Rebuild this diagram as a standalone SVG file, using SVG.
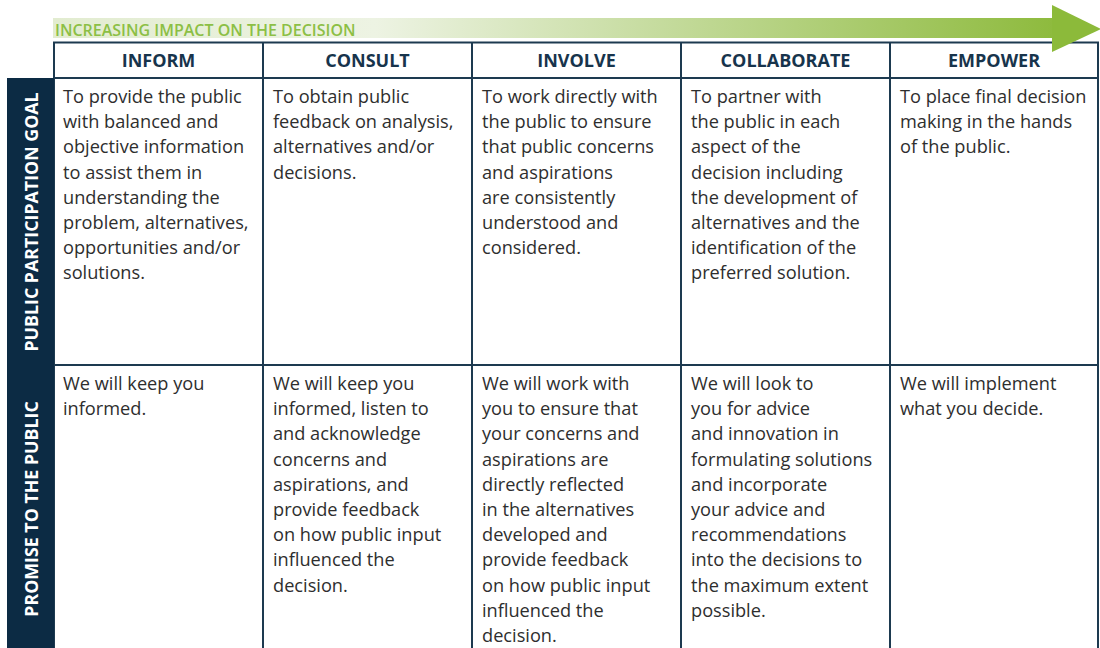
<svg xmlns="http://www.w3.org/2000/svg" width="1100" height="648" viewBox="0 0 1100 648">
<defs>
<linearGradient id="shaft" x1="53" y1="0" x2="1060" y2="0" gradientUnits="userSpaceOnUse">
<stop offset="0" stop-color="#e2ecd0"/>
<stop offset="0.32" stop-color="#edf3e3"/>
<stop offset="1" stop-color="#8dba3c"/>
</linearGradient>
<style>
.grid{stroke:#1d3a50;stroke-width:2;fill:none}
.side{fill:#0c2b44}
.hdr{font-family:"Open Sans","Noto Sans",sans-serif;font-weight:700;font-size:18px;fill:#17344c;text-anchor:middle}
.body{font-family:"Open Sans","Noto Sans",sans-serif;font-size:18.2px;fill:#2e2e2e}
.vert{font-family:"Open Sans","Noto Sans",sans-serif;font-weight:700;font-size:17.8px;fill:#ffffff;text-anchor:middle}
.arrowtxt{font-family:"Open Sans","Noto Sans",sans-serif;font-weight:600;font-size:16px;fill:#8cbf45}
</style>
</defs>
<rect width="1100" height="648" fill="#ffffff"/>

<g id="table-grid">
<rect class="grid" x="54" y="42.5" width="1044" height="620"/>
<line class="grid" x1="54" y1="78" x2="1098" y2="78"/>
<line class="grid" x1="54" y1="365" x2="1098" y2="365"/>
<line class="grid" x1="263" y1="42.5" x2="263" y2="648"/>
<line class="grid" x1="472" y1="42.5" x2="472" y2="648"/>
<line class="grid" x1="681" y1="42.5" x2="681" y2="648"/>
<line class="grid" x1="890" y1="42.5" x2="890" y2="648"/>
</g>

<g id="impact-arrow">
<rect x="53" y="18" width="1000" height="20" fill="url(#shaft)"/>
<polygon points="1052,5 1101,29 1052,52" fill="#8cba3a"/>
<text class="arrowtxt" x="55" y="36">INCREASING IMPACT ON THE DECISION</text>
</g>

<g id="hdr-inform"><text class="hdr" x="158.5" y="67">INFORM</text></g>
<g id="hdr-consult"><text class="hdr" x="367.5" y="67">CONSULT</text></g>
<g id="hdr-involve"><text class="hdr" x="576.5" y="67">INVOLVE</text></g>
<g id="hdr-collaborate"><text class="hdr" x="785.5" y="67">COLLABORATE</text></g>
<g id="hdr-empower"><text class="hdr" x="994" y="67">EMPOWER</text></g>

<g id="side-goal">
<rect class="side" x="7" y="78" width="47" height="287"/>
<text class="vert" transform="translate(37.5,222) rotate(-90)">PUBLIC PARTICIPATION GOAL</text>
</g>
<g id="side-promise">
<rect class="side" x="7" y="365" width="47" height="283"/>
<text class="vert" transform="translate(37.5,509) rotate(-90)">PROMISE TO THE PUBLIC</text>
</g>

<g id="goal-inform"><text class="body" y="103">
<tspan x="63">To provide the public</tspan>
<tspan x="63" dy="25.2">with balanced and</tspan>
<tspan x="63" dy="25.2">objective information</tspan>
<tspan x="63" dy="25.2">to assist them in</tspan>
<tspan x="63" dy="25.2">understanding the</tspan>
<tspan x="63" dy="25.2">problem, alternatives,</tspan>
<tspan x="63" dy="25.2">opportunities and/or</tspan>
<tspan x="63" dy="25.2">solutions.</tspan>
</text></g>
<g id="goal-consult"><text class="body" y="103">
<tspan x="273">To obtain public</tspan>
<tspan x="273" dy="25.2">feedback on analysis,</tspan>
<tspan x="273" dy="25.2">alternatives and/or</tspan>
<tspan x="273" dy="25.2">decisions.</tspan>
</text></g>
<g id="goal-involve"><text class="body" y="103">
<tspan x="482">To work directly with</tspan>
<tspan x="482" dy="25.2">the public to ensure</tspan>
<tspan x="482" dy="25.2">that public concerns</tspan>
<tspan x="482" dy="25.2">and aspirations</tspan>
<tspan x="482" dy="25.2">are consistently</tspan>
<tspan x="482" dy="25.2">understood and</tspan>
<tspan x="482" dy="25.2">considered.</tspan>
</text></g>
<g id="goal-collaborate"><text class="body" y="103">
<tspan x="691">To partner with</tspan>
<tspan x="691" dy="25.2">the public in each</tspan>
<tspan x="691" dy="25.2">aspect of the</tspan>
<tspan x="691" dy="25.2">decision including</tspan>
<tspan x="691" dy="25.2">the development of</tspan>
<tspan x="691" dy="25.2">alternatives and the</tspan>
<tspan x="691" dy="25.2">identification of the</tspan>
<tspan x="691" dy="25.2">preferred solution.</tspan>
</text></g>
<g id="goal-empower"><text class="body" y="103">
<tspan x="900">To place final decision</tspan>
<tspan x="900" dy="25.2">making in the hands</tspan>
<tspan x="900" dy="25.2">of the public.</tspan>
</text></g>

<g id="promise-inform"><text class="body" y="390">
<tspan x="63">We will keep you</tspan>
<tspan x="63" dy="25.2">informed.</tspan>
</text></g>
<g id="promise-consult"><text class="body" y="390">
<tspan x="273">We will keep you</tspan>
<tspan x="273" dy="25.2">informed, listen to</tspan>
<tspan x="273" dy="25.2">and acknowledge</tspan>
<tspan x="273" dy="25.2">concerns and</tspan>
<tspan x="273" dy="25.2">aspirations, and</tspan>
<tspan x="273" dy="25.2">provide feedback</tspan>
<tspan x="273" dy="25.2">on how public input</tspan>
<tspan x="273" dy="25.2">influenced the</tspan>
<tspan x="273" dy="25.2">decision.</tspan>
</text></g>
<g id="promise-involve"><text class="body" y="390">
<tspan x="482">We will work with</tspan>
<tspan x="482" dy="25.2">you to ensure that</tspan>
<tspan x="482" dy="25.2">your concerns and</tspan>
<tspan x="482" dy="25.2">aspirations are</tspan>
<tspan x="482" dy="25.2">directly reflected</tspan>
<tspan x="482" dy="25.2">in the alternatives</tspan>
<tspan x="482" dy="25.2">developed and</tspan>
<tspan x="482" dy="25.2">provide feedback</tspan>
<tspan x="482" dy="25.2">on how public input</tspan>
<tspan x="482" dy="25.2">influenced the</tspan>
<tspan x="482" dy="25.2">decision.</tspan>
</text></g>
<g id="promise-collaborate"><text class="body" y="390">
<tspan x="691">We will look to</tspan>
<tspan x="691" dy="25.2">you for advice</tspan>
<tspan x="691" dy="25.2">and innovation in</tspan>
<tspan x="691" dy="25.2">formulating solutions</tspan>
<tspan x="691" dy="25.2">and incorporate</tspan>
<tspan x="691" dy="25.2">your advice and</tspan>
<tspan x="691" dy="25.2">recommendations</tspan>
<tspan x="691" dy="25.2">into the decisions to</tspan>
<tspan x="691" dy="25.2">the maximum extent</tspan>
<tspan x="691" dy="25.2">possible.</tspan>
</text></g>
<g id="promise-empower"><text class="body" y="390">
<tspan x="900">We will implement</tspan>
<tspan x="900" dy="25.2">what you decide.</tspan>
</text></g>
</svg>
